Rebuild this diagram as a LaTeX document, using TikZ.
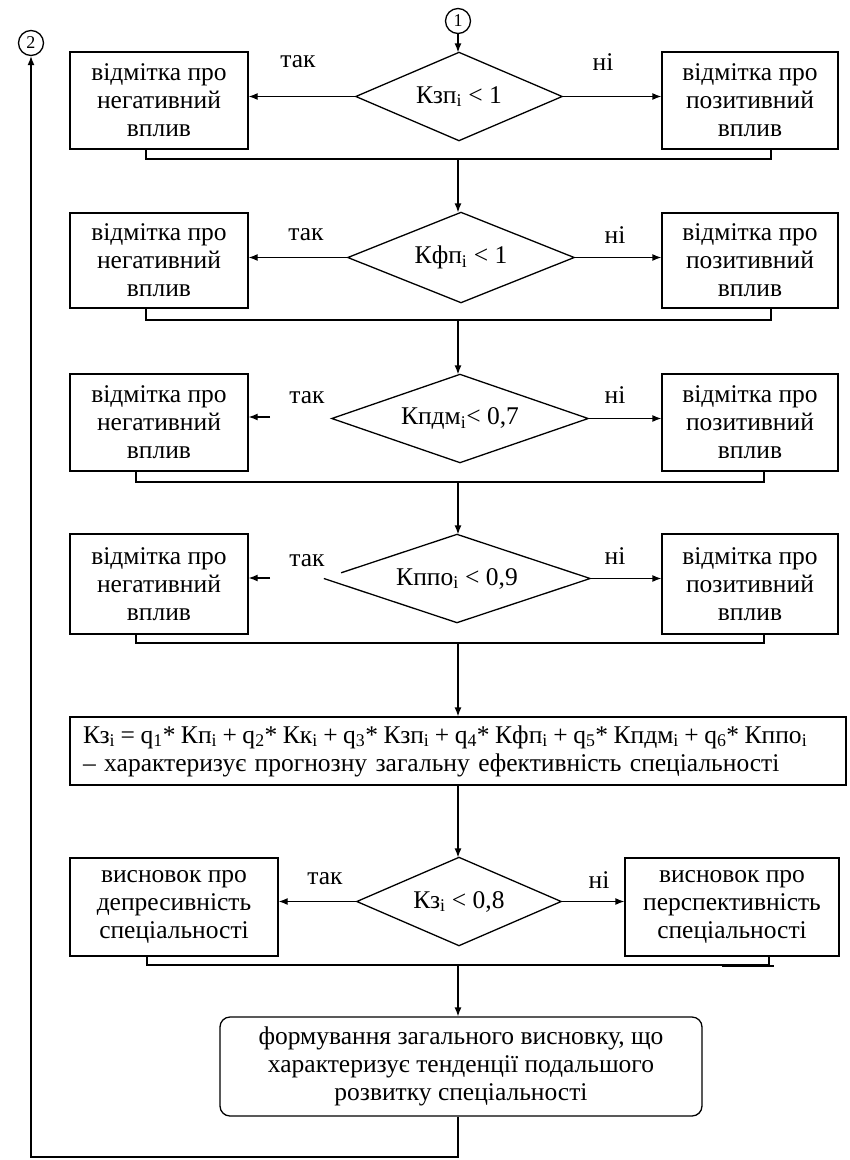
\documentclass[tikz,border=0pt]{standalone}
\usepackage{fontspec}
\setmainfont{Liberation Serif}
\usetikzlibrary{arrows.meta,calc}
\begin{document}
\begin{tikzpicture}[x=1pt,y=-1pt,
  line width=1.3pt,
  every node/.style={font=\fontsize{25.5}{28}\selectfont},
  box/.style={draw, rectangle, align=center, inner sep=0pt},
  dbox/.style={rectangle, inner sep=0pt},
  lbl/.style={inner sep=0pt},
  conn/.style={circle, draw, inner sep=0pt, minimum size=25pt, font=\fontsize{18}{18}\selectfont},
  arr/.style={-{Latex[length=9pt,width=7pt]}},
  thk/.style={line width=2.8pt}]
\useasboundingbox (0,0) rectangle (850,1160);

% connectors (circles)
\node[conn] (c1) at (458,21) {1};
\node[conn] (c2) at (31,43) {2};

% row 1
\node[box, minimum width=178pt, minimum height=97pt] (l1) at (159,100.5) {відмітка про\\негативний\\вплив};
\node[box, minimum width=176pt, minimum height=97pt] (r1) at (750,100.5) {відмітка про\\позитивний\\вплив};
\node[dbox, minimum width=205pt, minimum height=87pt] (d1) at (459,96.5) {Кзп\textsubscript{і} < 1};
\draw (d1.north) -- (d1.east) -- (d1.south) -- (d1.west) -- cycle;
\node[lbl] (t1) at (298,62) {так};
\node[lbl] (n1) at (603,62) {ні};

% row 2
\node[box, minimum width=178pt, minimum height=95pt] (l2) at (159,260.5) {відмітка про\\негативний\\вплив};
\node[box, minimum width=176pt, minimum height=95pt] (r2) at (750,260.5) {відмітка про\\позитивний\\вплив};
\node[dbox, minimum width=225pt, minimum height=89pt] (d2) at (461,257.5) {Кфп\textsubscript{і} < 1};
\draw (d2.north) -- (d2.east) -- (d2.south) -- (d2.west) -- cycle;
\node[lbl] (t2) at (306,235) {так};
\node[lbl] (n2) at (615,235) {ні};

% row 3
\node[box, minimum width=178pt, minimum height=97pt] (l3) at (159,422.5) {відмітка про\\негативний\\вплив};
\node[box, minimum width=176pt, minimum height=97pt] (r3) at (750,422.5) {відмітка про\\позитивний\\вплив};
\node[dbox, minimum width=255pt, minimum height=87pt] (d3) at (460,418.5) {Кпдм\textsubscript{і}< 0,7};
\draw (d3.north) -- (d3.east) -- (d3.south) -- (d3.west) -- cycle;
\node[lbl] (t3) at (307,398) {так};
\node[lbl] (n3) at (615,395) {ні};
\coordinate (a3) at (270,417);

% row 4
\node[box, minimum width=178pt, minimum height=100pt] (l4) at (159,584) {відмітка про\\негативний\\вплив};
\node[box, minimum width=176pt, minimum height=100pt] (r4) at (750,584) {відмітка про\\позитивний\\вплив};
\node[dbox, minimum width=265pt, minimum height=87pt] (d4) at (457,578.5) {Кппо\textsubscript{і} < 0,9};
\draw (d4.west) -- (d4.south) -- (d4.east) -- (d4.north) -- ($(d4.north)!0.87!(d4.west)$);
\node[lbl] (t4) at (307,561) {так};
\node[lbl] (n4) at (615,556) {ні};
\coordinate (a4) at (270,578);

% formula box
\node[draw, rectangle, inner xsep=13pt, inner ysep=0pt, minimum height=68pt, text width=750pt, align=left] (fb) at (458,751)
 {\mbox{\spaceskip=5.5pt Кз\textsubscript{і} = q\textsubscript{1}* Кп\textsubscript{і} + q\textsubscript{2}* Кк\textsubscript{і} + q\textsubscript{3}* Кзп\textsubscript{і} + q\textsubscript{4}* Кфп\textsubscript{і} + q\textsubscript{5}* Кпдм\textsubscript{і} + q\textsubscript{6}* Кппо\textsubscript{і}}\\\mbox{– характеризує прогнозну загальну ефективність спеціальності}};

% row 5
\node[box, minimum width=208pt, minimum height=98pt] (l5) at (174,907) {висновок про\\депресивність\\спеціальності};
\node[box, minimum width=214pt, minimum height=98pt] (r5) at (732,907) {висновок про\\перспективність\\спеціальності};
\node[dbox, minimum width=203pt, minimum height=87pt] (d5) at (459,901.5) {Кз\textsubscript{і} < 0,8};
\draw (d5.north) -- (d5.east) -- (d5.south) -- (d5.west) -- cycle;
\node[lbl] (t5) at (325,879) {так};
\node[lbl] (n5) at (599,880) {ні};

% final box
\node[box, rounded corners=10pt, minimum width=482pt, minimum height=99pt] (fin) at (461,1066.5)
 {формування загального висновку, що\\характеризує тенденції подальшого\\розвитку спеціальності};

% junction coordinates
\coordinate (j1) at (458,159);
\coordinate (j2) at (458,320);
\coordinate (j3) at (458,482);
\coordinate (j4) at (458,643);
\coordinate (j5) at (458,965);
\coordinate (jb) at (458,1157);

% arrows row 1
\draw[arr] (c1.south) -- (c1.south |- d1.north);
\draw[arr] (d1.west) -- (d1.west -| l1.east);
\draw[arr] (d1.east) -- (d1.east -| r1.west);
\draw ([xshift=-13pt]l1.south) |- (j1) -| ([xshift=21pt]r1.south);
\draw[thk] (587,159) -- (771,159);
\draw[arr] (j1) -- (j1 |- d2.north);

% row 2
\draw[arr] (d2.west) -- (d2.west -| l2.east);
\draw[arr] (d2.east) -- (d2.east -| r2.west);
\draw ([xshift=-13pt]l2.south) |- (j2) -| ([xshift=21pt]r2.south);
\draw[thk] (436,320) -- (659,320);
\draw[arr] (j2) -- (j2 |- d3.north);

% row 3
\draw[arr] (a3) -- (a3 -| l3.east);
\draw[arr] (d3.east) -- (d3.east -| r3.west);
\draw ([xshift=-23pt]l3.south) |- (j3) -| ([xshift=14pt]r3.south);
\draw[thk] (253,482) -- (480,482);
\draw[arr] (j3) -- (j3 |- d4.north);

% row 4
\draw[arr] (a4) -- (a4 -| l4.east);
\draw[arr] (d4.east) -- (d4.east -| r4.west);
\draw ([xshift=-23pt]l4.south) |- (j4) -| ([xshift=14pt]r4.south);
\draw[thk] (136,643) -- (323,643);
\draw[arr] (j4) -- (j4 |- fb.north);

% formula to row 5
\draw[arr] (fb.south -| j4) -- (j4 |- d5.north);
\draw[arr] (d5.west) -- (d5.west -| l5.east);
\draw[arr] (d5.east) -- (d5.east -| r5.west);
\draw ([xshift=-27pt]l5.south) |- (j5) -| ([xshift=37pt]r5.south);
\draw[thk] (722,966) -- (774,966);
\draw[arr] (j5) -- (j5 |- fin.north);

% loop back
\draw[arr] (fin.south -| jb) -- (jb) -| (c2.south);
\end{tikzpicture}
\end{document}
